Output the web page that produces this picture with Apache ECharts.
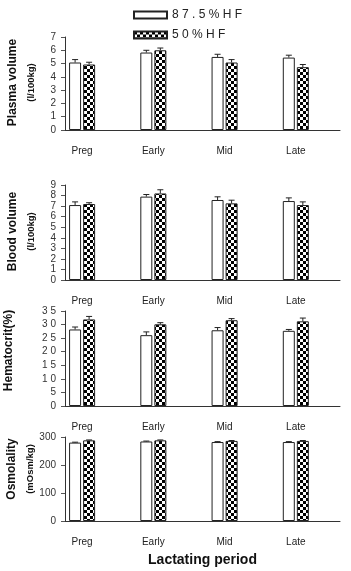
<!DOCTYPE html>
<html>
<head>
<meta charset="utf-8">
<title>Lactating period</title>
<script src="https://cdn.jsdelivr.net/npm/echarts@6/dist/echarts.min.js"></script>
<style>
  html, body { margin: 0; padding: 0; background: #fff; }
  #main { width: 351px; height: 571px; }
</style>
</head>
<body>
<div id="main"></div>
<script>
var categories = ['Preg', 'Early', 'Mid', 'Late'];
var seriesNames = ['8 7 . 5 % H F', '5 0 % H F'];

// plasma volume (l/100kg)
var plasmaHigh = [5.08, 5.83, 5.5, 5.45];
var plasmaHighErr = [0.22, 0.17, 0.2, 0.18];
var plasmaLow = [4.93, 6.0, 5.08, 4.73];
var plasmaLowErr = [0.17, 0.17, 0.22, 0.2];

// blood volume (l/100kg)
var bloodHigh = [7.1, 7.9, 7.58, 7.48];
var bloodHighErr = [0.3, 0.2, 0.3, 0.3];
var bloodLow = [7.2, 8.2, 7.26, 7.1];
var bloodLowErr = [0.12, 0.35, 0.3, 0.3];

// hematocrit (%)
var hctHigh = [28.2, 26.1, 27.9, 27.7];
var hctHighErr = [0.9, 1.2, 1.0, 0.5];
var hctLow = [31.9, 30.1, 31.6, 31.2];
var hctLowErr = [1.1, 0.6, 0.6, 1.2];

// osmolality (mOsm/kg)
var osmHigh = [280, 284, 282, 282];
var osmHighErr = [1.5, 1.5, 1.5, 1.5];
var osmLow = [288, 288, 286, 286];
var osmLowErr = [1.5, 1.5, 1.5, 1.5];

var yMax = [7, 9, 35, 300];
var yStep = [1, 1, 5, 100];

var myChart = echarts.init(document.getElementById('main'));

// checker pattern for the 50% HF bars
var tile = document.createElement('canvas');
tile.width = 6;
tile.height = 6;
var ctx = tile.getContext('2d');
ctx.fillStyle = '#fff';
ctx.fillRect(0, 0, 6, 6);
ctx.fillStyle = '#000';
ctx.fillRect(0, 0, 3, 3);
ctx.fillRect(3, 3, 3, 3);
var checker = { image: tile, repeat: 'repeat' };

var panels = [
    { title: 'Plasma volume', unit: '(l/100kg)', high: plasmaHigh, highErr: plasmaHighErr, low: plasmaLow, lowErr: plasmaLowErr, top: 37, height: 93, gap: 24, lift: 2 },
    { title: 'Blood volume', unit: '(l/100kg)', high: bloodHigh, highErr: bloodHighErr, low: bloodLow, lowErr: bloodLowErr, top: 185, height: 95, gap: 24, lift: 2 },
    { title: 'Hematocrit(%)', unit: '', high: hctHigh, highErr: hctHighErr, low: hctLow, lowErr: hctLowErr, top: 311, height: 95, gap: 47, lift: 16 },
    { title: 'Osmolality', unit: '(mOsm/kg)', high: osmHigh, highErr: osmHighErr, low: osmLow, lowErr: osmLowErr, top: 437, height: 84, gap: 25, lift: 20 }
];

function pairs(vals, errs) {
    return vals.map(function (v, i) { return [i, v, errs[i]]; });
}

function errorBar(shift) {
    return function (params, api) {
        var base = api.coord([api.value(0), api.value(1)]);
        var tip = api.coord([api.value(0), api.value(1) + api.value(2)]);
        var x = base[0] + shift;
        var st = { stroke: '#222', lineWidth: 1 };
        return {
            type: 'group',
            children: [
                { type: 'line', shape: { x1: x, y1: base[1], x2: x, y2: tip[1] }, style: st },
                { type: 'line', shape: { x1: x - 3, y1: tip[1], x2: x + 3, y2: tip[1] }, style: st }
            ]
        };
    };
}

var grids = [], xAxes = [], yAxes = [], series = [];
panels.forEach(function (p, k) {
    grids.push({ left: 65, right: 11, top: p.top, height: p.height, containLabel: false, outerBoundsMode: 'none' });
    xAxes.push({
        type: 'value', gridIndex: k, min: -0.24, max: 3.62,
        axisLine: { onZero: false, lineStyle: { color: '#333' } },
        axisTick: { show: false },
        splitLine: { show: false },
        axisLabel: {
            customValues: [0, 1, 2, 3],
            formatter: function (v) { return categories[Math.round(v)]; },
            margin: 16, fontSize: 10, color: '#222', fontFamily: 'Liberation Sans'
        },
        name: k === 3 ? 'Lactating period' : '',
        nameLocation: 'middle', nameGap: 32, nameMoveOverlap: false,
        nameTextStyle: { fontSize: 14, fontWeight: 'bold', color: '#111', fontFamily: 'Liberation Sans' }
    });
    var nm = p.unit ? '{a|' + p.title + '}\n{b|' + p.unit + '}' : '{a|' + p.title + '}';
    yAxes.push({
        type: 'value', gridIndex: k, min: 0, max: yMax[k], interval: yStep[k],
        axisLine: { show: true, onZero: false, lineStyle: { color: '#333' } },
        axisTick: { show: true, length: 4, lineStyle: { color: '#555' } },
        splitLine: { show: false },
        axisLabel: {
            fontSize: 10, color: '#333', margin: 9, fontFamily: 'Liberation Sans',
            formatter: k === 2 ? function (v) { return String(v).split('').join(' '); } : '{value}'
        },
        name: nm, nameLocation: 'middle', nameRotate: 90, nameGap: p.gap, nameMoveOverlap: false,
        nameTextStyle: {
            padding: [0, 0, 0, p.lift],
            rich: {
                a: { fontSize: 12, fontWeight: 'bold', color: '#111', fontFamily: 'Liberation Sans', lineHeight: 19 },
                b: { fontSize: 9.5, fontWeight: 'bold', color: '#111', fontFamily: 'Liberation Sans', lineHeight: 19 }
            }
        }
    });
    series.push({
        type: 'bar', name: seriesNames[0], xAxisIndex: k, yAxisIndex: k,
        barWidth: 12, barGap: '17%',
        itemStyle: { color: '#fff', borderColor: '#222', borderWidth: 1 },
        data: pairs(p.high, p.highErr)
    });
    series.push({
        type: 'bar', name: seriesNames[1], xAxisIndex: k, yAxisIndex: k,
        barWidth: 12, barGap: '17%',
        itemStyle: { color: checker, borderColor: '#222', borderWidth: 1 },
        data: pairs(p.low, p.lowErr)
    });
    series.push({
        type: 'custom', xAxisIndex: k, yAxisIndex: k, z: 3,
        renderItem: errorBar(-7), encode: { x: 0, y: 1 },
        data: pairs(p.high, p.highErr)
    });
    series.push({
        type: 'custom', xAxisIndex: k, yAxisIndex: k, z: 3,
        renderItem: errorBar(7), encode: { x: 0, y: 1 },
        data: pairs(p.low, p.lowErr)
    });
});

myChart.setOption({
    animation: false,
    legend: {
        data: seriesNames,
        orient: 'vertical', left: 128, top: 4,
        itemWidth: 33, itemHeight: 7, itemGap: 8, icon: 'rect',
        textStyle: { fontSize: 12, color: '#222', fontFamily: 'Liberation Sans' }
    },
    grid: grids,
    xAxis: xAxes,
    yAxis: yAxes,
    series: series
});
</script>
</body>
</html>
